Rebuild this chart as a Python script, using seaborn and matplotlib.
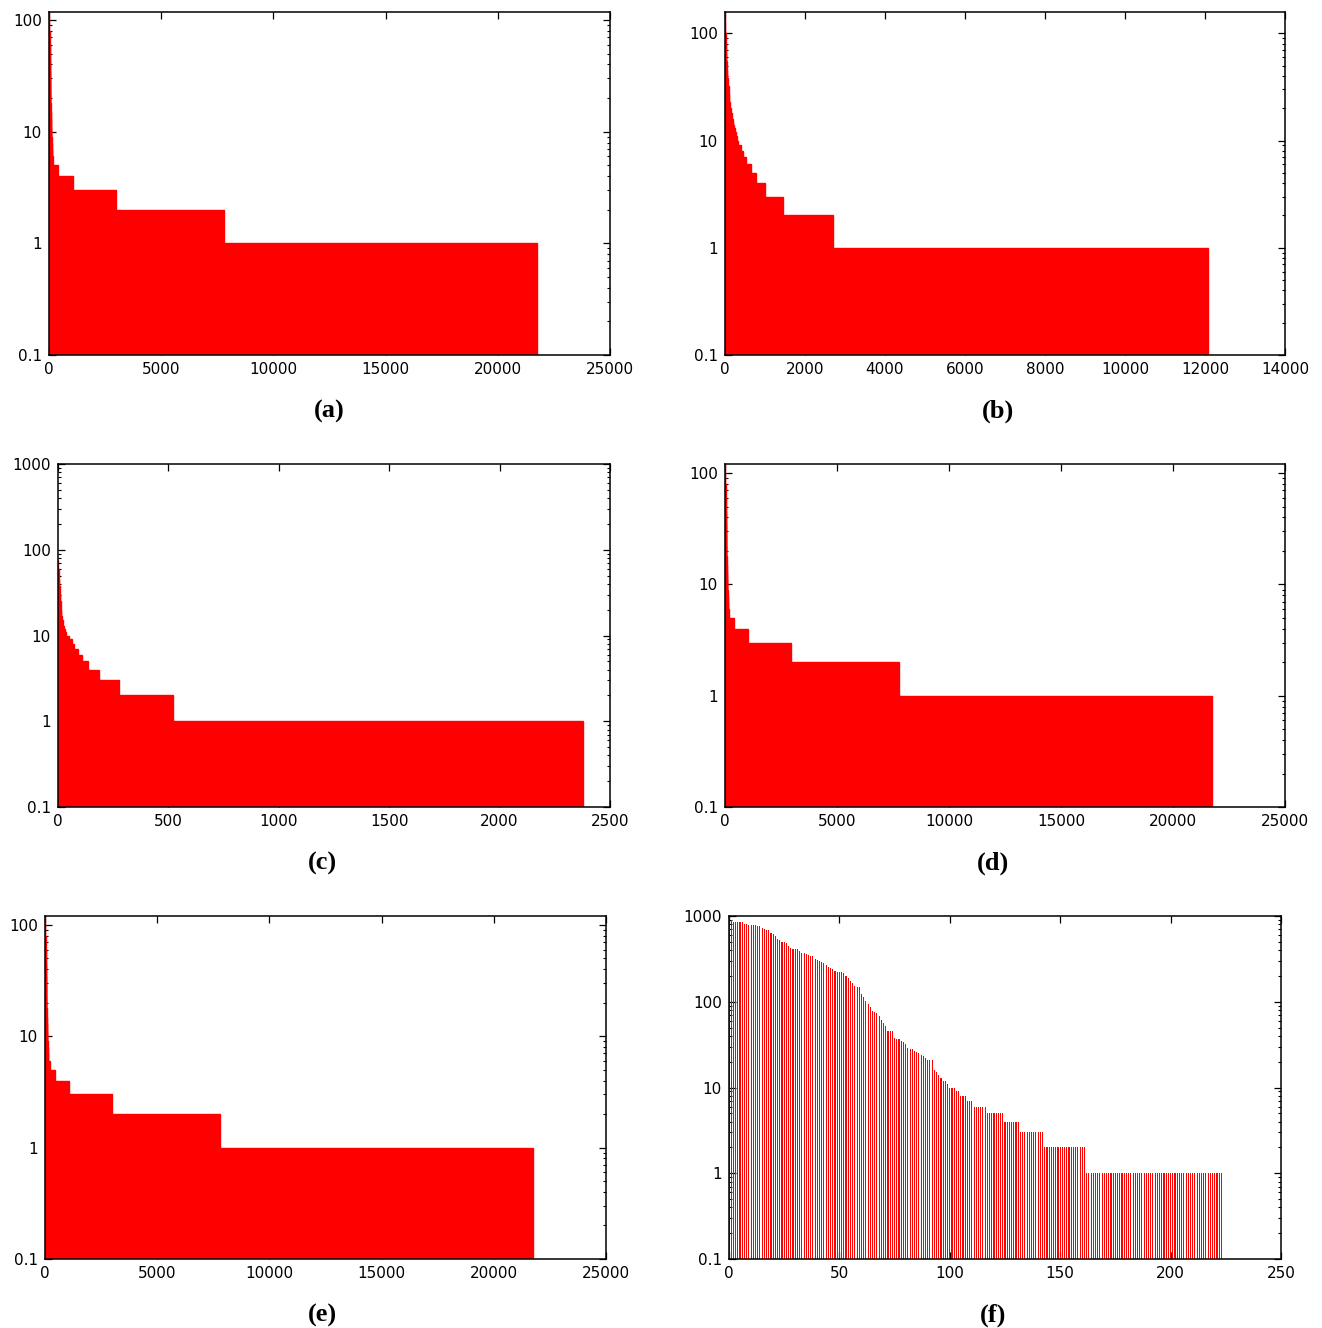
import matplotlib
matplotlib.use("Agg")
import matplotlib.pyplot as plt
import numpy as np
import pandas as pd
import seaborn as sns
from matplotlib.ticker import FixedLocator, FuncFormatter, LogLocator, NullFormatter

"""
Rank-frequency plots, six panels, log y axis.
Each filled panel is stored as runs: a frequency value and the rank where it ends.
"""

# (a)
a_vals = [118, 100, 80, 60, 45, 35, 28, 22, 18, 15, 13, 11, 10, 9, 8, 7, 6, 5, 4, 3, 2, 1]
a_ends = [8, 16, 24, 32, 40, 48, 56, 64, 72, 80, 88, 96, 104, 112, 120, 134, 178, 401, 1057, 2974, 7789, 21743]

# (b)
b_vals = [158, 130, 100, 80, 65, 55, 45, 38, 32, 27, 23, 20, 18, 16, 15, 14, 13, 12, 11, 10, 9, 8, 7, 6, 5, 4, 3, 2, 1]
b_ends = [3, 8, 17, 25, 35, 45, 60, 75, 90, 110, 130, 150, 175, 195, 210, 225, 248, 273, 297, 332, 389, 456, 520, 644,
          786, 1009, 1447, 2711, 12075]

# (c)
c_vals = [75, 60, 45, 38, 30, 25, 20, 17, 15, 13, 12, 11, 10, 9, 8, 7, 6, 5, 4, 3, 2, 1]
c_ends = [2, 4, 6, 8, 10, 12, 15, 19, 23, 28, 33, 38, 50, 62, 74, 89, 107, 136, 184, 275, 521, 2377]

# (d)
d_vals = [121, 100, 80, 60, 45, 35, 28, 22, 18, 15, 13, 11, 10, 9, 8, 7, 6, 5, 4, 3, 2, 1]
d_ends = [8, 16, 24, 32, 40, 48, 56, 64, 72, 80, 88, 96, 104, 112, 120, 134, 190, 380, 1040, 2960, 7780, 21748]

# (e)
e_vals = [120, 100, 80, 60, 45, 35, 28, 22, 18, 15, 13, 11, 10, 9, 8, 7, 6, 5, 4, 3, 2, 1]
e_ends = [8, 16, 24, 32, 40, 48, 56, 64, 72, 80, 88, 96, 104, 112, 120, 140, 209, 432, 1086, 2999, 7819, 21750]

# (f) first 100 ranks one by one, then runs of equal counts
f_head = [915, 900, 850, 850, 845, 845, 840, 800, 800, 795, 795, 790, 780, 760, 755, 720, 700, 690, 680, 640,
          620, 585, 545, 530, 500, 495, 490, 445, 420, 415, 415, 410, 390, 375, 370, 365, 350, 340, 340, 315,
          310, 300, 290, 280, 265, 255, 250, 240, 230, 225, 225, 222, 215, 200, 190, 175, 165, 152, 150, 148,
          122, 113, 102, 93, 87, 78, 76, 74, 68, 62, 57, 52, 46, 46, 45, 38, 37, 37, 35, 34,
          32, 29, 28, 28, 27, 26, 25, 24, 23, 22, 21, 21, 21, 16, 15, 14, 13, 12, 12, 11]
f_tail_vals = [10, 9, 8, 7, 6, 5, 4, 3, 2, 1]
f_tail_counts = [3, 2, 3, 3, 6, 8, 7, 11, 19, 62]

x_ticks = {
    "a": [0, 5000, 10000, 15000, 20000, 25000],
    "b": [0, 2000, 4000, 6000, 8000, 10000, 12000, 14000],
    "c": [0, 500, 1000, 1500, 2000, 2500],
    "d": [0, 5000, 10000, 15000, 20000, 25000],
    "e": [0, 5000, 10000, 15000, 20000, 25000],
    "f": [0, 50, 100, 150, 200, 250],
}

W, H = 1322, 1328


def add_axes(fig, left, top, right, bottom):
    return fig.add_axes([left / W, 1 - bottom / H, (right - left) / W, (bottom - top) / H])


def draw_runs(ax, vals, ends):
    edges = [0] + list(ends)
    df = pd.DataFrame({"rank": edges[:-1], "freq": vals})
    # thick red edges hide the seams between neighbouring runs
    sns.histplot(data=df, x="rank", weights="freq", bins=edges, ax=ax, color="red", alpha=1,
                 edgecolor="red", linewidth=1.0)


def style_axis(ax, key, ytop):
    ax.set_yscale("log")
    ax.set_ylim(0.1, ytop)
    ticks = x_ticks[key]
    ax.set_xlim(ticks[0], ticks[-1])
    ax.xaxis.set_major_locator(FixedLocator(ticks))
    dec = [v for v in [0.1, 1, 10, 100, 1000] if v <= ytop * 1.001]
    ax.yaxis.set_major_locator(FixedLocator(dec))
    ax.yaxis.set_minor_locator(LogLocator(base=10, subs=np.arange(2, 10)))
    ax.yaxis.set_major_formatter(FuncFormatter(lambda v, _: "{:g}".format(v)))
    ax.yaxis.set_minor_formatter(NullFormatter())
    ax.set_xlabel("")
    ax.set_ylabel("")
    ax.tick_params(which="both", direction="in", top=True, right=True, colors="black",
                   labelsize=11, pad=5)
    ax.tick_params(which="major", length=5, width=0.9)
    ax.tick_params(which="minor", length=2.5, width=0.8)
    for s in ax.spines.values():
        s.set_visible(True)
        s.set_linewidth(1.1)
        s.set_color("black")


def main():
    sns.set_style("ticks")
    plt.rcParams["font.family"] = ["DejaVu Sans"]
    plt.rcParams["text.color"] = "black"
    fig = plt.figure(figsize=(W / 100, H / 100), dpi=100)

    panels = [
        ("a", a_vals, a_ends, (49, 12, 610, 355), 118, (329, 411)),
        ("b", b_vals, b_ends, (725, 12, 1285, 355), 158, (998, 411)),
        ("c", c_vals, c_ends, (58, 464, 610, 807), 1000, (322, 863)),
        ("d", d_vals, d_ends, (725, 464, 1285, 807), 121, (993, 863)),
        ("e", e_vals, e_ends, (45, 916, 606, 1259), 120, (322, 1315)),
    ]
    for key, vals, ends, box, ytop, lab in panels:
        ax = add_axes(fig, *box)
        draw_runs(ax, vals, ends)
        style_axis(ax, key, ytop)
        fig.text(lab[0] / W, 1 - lab[1] / H, "({})".format(key), ha="center", va="center",
                 fontfamily="Liberation Serif", fontweight="bold", fontsize=19, color="black")

    # (f) one thin bar per rank
    f_vals = list(f_head)
    for v, n in zip(f_tail_vals, f_tail_counts):
        f_vals += [v] * n
    df_f = pd.DataFrame({"rank": np.arange(len(f_vals)), "freq": f_vals})
    ax = add_axes(fig, 729, 916, 1281, 1259)
    sns.histplot(data=df_f, x="rank", weights="freq", discrete=True, shrink=0.5, ax=ax,
                 color="red", alpha=1, linewidth=0)
    style_axis(ax, "f", 1000)
    fig.text(993 / W, 1 - 1315 / H, "(f)", ha="center", va="center",
             fontfamily="Liberation Serif", fontweight="bold", fontsize=19, color="black")

    fig.savefig("out.png", dpi=100)
    plt.close("all")


if __name__ == '__main__':
    main()
